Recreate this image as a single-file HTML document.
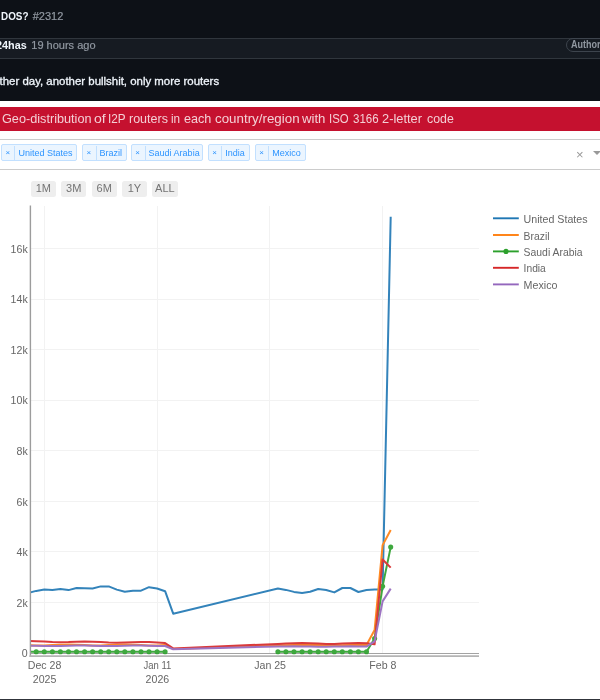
<!DOCTYPE html>
<html lang="en"><head><meta charset="utf-8"><title>DOS? #2312</title>
<style>
html,body{margin:0;padding:0}
body{width:600px;height:700px;position:relative;overflow:hidden;background:#fff;font-family:"Liberation Sans",Arial,sans-serif}
.gh{position:absolute;left:0;top:0;width:600px;height:100.6px;background:#0d1117;color:#f0f6fc;font-size:11px}
.gh .title{position:absolute;left:1px;top:8.4px;line-height:16px;white-space:nowrap}
.gh .title b{font-weight:700;display:inline-block;transform:scaleX(.897);transform-origin:0 0;margin-right:-3.2px}
.gh .title .num{color:#9198a1;margin-left:4.3px;-webkit-text-stroke:.2px #9198a1}
.gh .hdr{position:absolute;left:-20px;right:-20px;top:38px;height:19.2px;background:#161b22;border:1px solid #30363d}
.gh .who{position:absolute;left:-3.6px;top:36.7px;line-height:16px;white-space:nowrap}
.gh .who b{display:inline-block;transform:scaleX(.985);transform-origin:0 0;margin-right:0}
.gh .who span{color:#9198a1;margin-left:3.7px;-webkit-text-stroke:.2px #9198a1}
.gh .pill{position:absolute;left:566px;top:38.2px;height:14px;width:60px;border:1px solid #3d444d;border-radius:8px;box-sizing:border-box;color:#9198a1;font-size:10px;font-weight:700;line-height:12px;padding-left:4.2px}
.gh .pill span{display:inline-block;transform:scaleX(.9);transform-origin:0 0}
.gh .body{position:absolute;left:-20.3px;top:72.8px;line-height:16px;white-space:nowrap;transform:scaleX(1.039);transform-origin:20.3px 0;-webkit-text-stroke:.3px #f0f6fc}
.banner{position:absolute;left:0;top:106.5px;width:600px;height:24px;background:#c5112f;color:rgba(255,255,255,.8);font-size:12.4px;line-height:24px;white-space:nowrap}
.banner span{position:absolute;top:0.1px;transform-origin:0 0}
.sel{position:absolute;left:-10px;top:139px;width:640px;height:28.9px;border:1px solid #ccc;border-radius:4px;background:#fff}
.tags{position:absolute;left:0;top:144.3px;height:16px}
.tag{position:absolute;top:0;height:16.5px;box-sizing:border-box;background:#ebf5ff;border:1px solid #c2e0ff;border-radius:2px;color:rgba(0,126,255,.82);font-size:9px;line-height:14.5px;white-space:nowrap}
.tag .x{position:absolute;left:0;top:0.3px;height:14.5px;text-indent:-1.2px;border-right:1px solid #c2e0ff;text-align:center;box-sizing:border-box;font-size:8px}
.tag .lbl{position:absolute;top:0.4px;padding-left:3px}
.clr{position:absolute;left:576.1px;top:146.2px;font-size:13px;color:#999;line-height:18px}
.arrow{position:absolute;left:592.5px;top:151px;width:0;height:0;border-left:4px solid transparent;border-right:4px solid transparent;border-top:4.5px solid #999}
.btn{position:absolute;top:180.6px;width:25.4px;height:16.2px;background:#eee;border-radius:2.5px;color:#747474;font-size:11px;line-height:15.4px;text-align:center;}
.chart{position:absolute;left:0;top:0}
.chart text{font-family:"Liberation Sans",Arial,sans-serif;font-size:10.6px;fill:#666}
.chart .leg text{font-size:10.8px;fill:#666}
.foot{position:absolute;left:0;top:698.6px;width:600px;height:2px;background:#30343a}
</style></head>
<body>
<div class="gh">
  <div class="title"><b>DOS?</b><span class="num">#2312</span></div>
  <div class="hdr"></div>
  <div class="who"><b>24has</b><span>19 hours ago</span></div>
  <div class="pill"><span>Author</span></div>
  <div class="body">Another day, another bullshit, only more routers</div>
</div>
<div class="banner"><span style="left:1.8px;transform:scaleX(1.023)">Geo-distribution</span> <span style="left:94.0px;transform:scaleX(1.136)">of</span> <span style="left:107.95px;transform:scaleX(0.947)">I2P</span> <span style="left:128.75px;transform:scaleX(1.009)">routers</span> <span style="left:171.0px;transform:scaleX(0.944)">in</span> <span style="left:183.5px;transform:scaleX(1.019)">each</span> <span style="left:215.0px;transform:scaleX(1.077)">country/region</span> <span style="left:302.0px;transform:scaleX(1.064)">with</span> <span style="left:328.7px;transform:scaleX(0.92)">ISO</span> <span style="left:352.7px;transform:scaleX(0.93)">3166</span> <span style="left:382.1px;transform:scaleX(1.036)">2-letter</span> <span style="left:426.7px;transform:scaleX(0.996)">code</span></div>
<div class="sel"></div>
<div class="tags"><span class="tag" style="left:1.3px;width:75.4px"><span class="x" style="width:13.2px">×</span><span class="lbl" style="left:13.2px">United States</span></span><span class="tag" style="left:82.3px;width:44.400000000000006px"><span class="x" style="width:13.299999999999997px">×</span><span class="lbl" style="left:13.299999999999997px">Brazil</span></span><span class="tag" style="left:131px;width:72.30000000000001px"><span class="x" style="width:13.599999999999994px">×</span><span class="lbl" style="left:13.599999999999994px">Saudi Arabia</span></span><span class="tag" style="left:208.3px;width:42.0px"><span class="x" style="width:13.0px">×</span><span class="lbl" style="left:13.0px">India</span></span><span class="tag" style="left:255px;width:51px"><span class="x" style="width:13.300000000000011px">×</span><span class="lbl" style="left:13.300000000000011px">Mexico</span></span></div>
<div class="clr">×</div><div class="arrow"></div>
<div class="btns"><span class="btn" style="left:30.7px">1M</span><span class="btn" style="left:61px">3M</span><span class="btn" style="left:91.5px">6M</span><span class="btn" style="left:121.8px">1Y</span><span class="btn" style="left:152.2px">ALL</span></div>
<svg class="chart" width="600" height="700" viewBox="0 0 600 700"><g stroke="#f2f2f2" stroke-width="1" shape-rendering="crispEdges"><line x1="31" x2="479" y1="602.4" y2="602.4"/><line x1="31" x2="479" y1="551.9" y2="551.9"/><line x1="31" x2="479" y1="501.3" y2="501.3"/><line x1="31" x2="479" y1="450.8" y2="450.8"/><line x1="31" x2="479" y1="400.2" y2="400.2"/><line x1="31" x2="479" y1="349.6" y2="349.6"/><line x1="31" x2="479" y1="299.1" y2="299.1"/><line x1="31" x2="479" y1="248.5" y2="248.5"/><line x1="44.3" x2="44.3" y1="206" y2="653"/><line x1="157.1" x2="157.1" y1="206" y2="653"/><line x1="269.8" x2="269.8" y1="206" y2="653"/><line x1="382.6" x2="382.6" y1="206" y2="653"/></g><line x1="31" x2="479" y1="653.5" y2="653.5" stroke="#999" stroke-width="0.9"/><clipPath id="cp"><rect x="30.2" y="200" width="449.8" height="456"/></clipPath><g clip-path="url(#cp)" fill="none" opacity=".91" stroke-width="2" stroke-linejoin="round" stroke-linecap="butt"><polyline stroke="#1f77b4" points="28.2,593.0 36.2,590.9 44.3,589.6 52.4,590.1 60.4,589.1 68.5,590.1 76.5,588.0 84.6,588.2 92.6,588.5 100.7,586.4 108.7,586.4 116.8,589.6 124.8,591.7 132.9,590.7 141.0,590.7 149.0,587.2 157.1,588.5 165.1,591.2 173.2,613.7 277.9,588.5 285.9,589.9 294.0,591.9 302.1,592.9 310.1,591.8 318.2,589 326.2,590 334.3,592.4 342.3,588 350.4,588 358.4,592 366.5,590 374.6,589.6 382.6,589.6 390.7,216.8"/><polyline stroke="#ff7f0e" points="28.2,645.1 36.2,645.4 44.3,645.5 52.4,645.1 60.4,644.7 68.5,644.5 76.5,644.7 84.6,645.1 92.6,645.4 100.7,645.5 108.7,645.1 116.8,644.7 124.8,644.5 132.9,644.7 141.0,645.1 149.0,645.5 157.1,645.4 165.1,645.1 173.2,648.9 277.9,645.3 285.9,645.2 294.0,645.0 302.1,644.9 310.1,645.0 318.2,645.1 326.2,645.3 334.3,645.3 342.3,645.2 350.4,645.0 358.4,644.9 366.5,645.0 374.6,630 382.6,545.2 390.7,530"/><polyline stroke="#2ca02c" points="28.2,651.8 36.2,651.8 44.3,651.8 52.4,651.8 60.4,651.8 68.5,651.8 76.5,651.8 84.6,651.8 92.6,651.8 100.7,651.8 108.7,651.8 116.8,651.8 124.8,651.8 132.9,651.8 141.0,651.8 149.0,651.8 157.1,651.8 165.1,651.8"/><polyline stroke="#2ca02c" points="277.9,651.8 285.9,651.8 294.0,651.8 302.1,651.8 310.1,651.8 318.2,651.8 326.2,651.8 334.3,651.8 342.3,651.8 350.4,651.8 358.4,651.8 366.5,651.8 374.6,638.6 382.6,586.3 390.7,547.1"/><circle cx="28.2" cy="651.8" r="2.55" fill="#2ca02c"/><circle cx="36.2" cy="651.8" r="2.55" fill="#2ca02c"/><circle cx="44.3" cy="651.8" r="2.55" fill="#2ca02c"/><circle cx="52.4" cy="651.8" r="2.55" fill="#2ca02c"/><circle cx="60.4" cy="651.8" r="2.55" fill="#2ca02c"/><circle cx="68.5" cy="651.8" r="2.55" fill="#2ca02c"/><circle cx="76.5" cy="651.8" r="2.55" fill="#2ca02c"/><circle cx="84.6" cy="651.8" r="2.55" fill="#2ca02c"/><circle cx="92.6" cy="651.8" r="2.55" fill="#2ca02c"/><circle cx="100.7" cy="651.8" r="2.55" fill="#2ca02c"/><circle cx="108.7" cy="651.8" r="2.55" fill="#2ca02c"/><circle cx="116.8" cy="651.8" r="2.55" fill="#2ca02c"/><circle cx="124.8" cy="651.8" r="2.55" fill="#2ca02c"/><circle cx="132.9" cy="651.8" r="2.55" fill="#2ca02c"/><circle cx="141.0" cy="651.8" r="2.55" fill="#2ca02c"/><circle cx="149.0" cy="651.8" r="2.55" fill="#2ca02c"/><circle cx="157.1" cy="651.8" r="2.55" fill="#2ca02c"/><circle cx="165.1" cy="651.8" r="2.55" fill="#2ca02c"/><circle cx="277.9" cy="651.8" r="2.55" fill="#2ca02c"/><circle cx="285.9" cy="651.8" r="2.55" fill="#2ca02c"/><circle cx="294.0" cy="651.8" r="2.55" fill="#2ca02c"/><circle cx="302.1" cy="651.8" r="2.55" fill="#2ca02c"/><circle cx="310.1" cy="651.8" r="2.55" fill="#2ca02c"/><circle cx="318.2" cy="651.8" r="2.55" fill="#2ca02c"/><circle cx="326.2" cy="651.8" r="2.55" fill="#2ca02c"/><circle cx="334.3" cy="651.8" r="2.55" fill="#2ca02c"/><circle cx="342.3" cy="651.8" r="2.55" fill="#2ca02c"/><circle cx="350.4" cy="651.8" r="2.55" fill="#2ca02c"/><circle cx="358.4" cy="651.8" r="2.55" fill="#2ca02c"/><circle cx="366.5" cy="651.8" r="2.55" fill="#2ca02c"/><circle cx="374.6" cy="638.6" r="2.55" fill="#2ca02c"/><circle cx="382.6" cy="586.3" r="2.55" fill="#2ca02c"/><circle cx="390.7" cy="547.1" r="2.55" fill="#2ca02c"/><polyline stroke="#d62728" points="28.2,641.0 36.2,641.2 44.3,641.6 52.4,642.1 60.4,642.3 68.5,642.1 76.5,641.7 84.6,641.5 92.6,641.7 100.7,642.1 108.7,642.6 116.8,642.8 124.8,642.5 132.9,642.2 141.0,642.0 149.0,642.1 157.1,642.6 165.1,643.1 173.2,648.4 277.9,643.9 285.9,643.6 294.0,643.3 302.1,643.1 310.1,643.2 318.2,643.6 326.2,643.9 334.3,643.9 342.3,643.6 350.4,643.3 358.4,643.1 366.5,643.2 374.6,644.3 382.6,559.5 390.7,567.6"/><polyline stroke="#9467bd" points="28.2,645.6 36.2,645.8 44.3,646.0 52.4,646.0 60.4,645.9 68.5,645.7 76.5,645.6 84.6,645.6 92.6,645.8 100.7,646.0 108.7,646.0 116.8,645.9 124.8,645.7 132.9,645.6 141.0,645.6 149.0,645.8 157.1,646.0 165.1,646.0 173.2,649.2 277.9,646.5 285.9,646.4 294.0,646.3 302.1,646.4 310.1,646.6 318.2,646.7 326.2,646.7 334.3,646.5 342.3,646.4 350.4,646.3 358.4,646.4 366.5,646.6 374.6,641.4 382.6,601.4 390.7,588.6"/></g><line x1="30.4" x2="30.4" y1="205.5" y2="656.9" stroke="#9c9c9c" stroke-width="1.4"/><line x1="29.4" x2="479" y1="656.1" y2="656.1" stroke="#b4b4b4" stroke-width="1.6"/><g class="tick" text-anchor="end"><text x="27.7" y="657.25">0</text><text x="27.7" y="606.65">2k</text><text x="27.7" y="556.15">4k</text><text x="27.7" y="505.55">6k</text><text x="27.7" y="455.05">8k</text><text x="27.7" y="404.45">10k</text><text x="27.7" y="353.85">12k</text><text x="27.7" y="303.35">14k</text><text x="27.7" y="252.75">16k</text></g><g class="tick" text-anchor="middle"><text x="44.599999999999994" y="669.1">Dec 28</text><text x="44.599999999999994" y="683.4">2025</text><text x="157.4" y="669.1" textLength="27.8" lengthAdjust="spacingAndGlyphs">Jan 11</text><text x="157.4" y="683.4">2026</text><text x="270.1" y="669.1">Jan 25</text><text x="382.90000000000003" y="669.1">Feb 8</text></g><g class="leg"><line x1="493" x2="518.8" y1="218.3" y2="218.3" stroke="#1f77b4" stroke-width="1.9"/><text x="523.6" y="222.8" textLength="64" lengthAdjust="spacingAndGlyphs">United States</text><line x1="493" x2="518.8" y1="235" y2="235" stroke="#ff7f0e" stroke-width="1.9"/><text x="523.6" y="239.5" textLength="26" lengthAdjust="spacingAndGlyphs">Brazil</text><line x1="493" x2="518.8" y1="251.4" y2="251.4" stroke="#2ca02c" stroke-width="1.9"/><circle cx="506" cy="251.4" r="2.55" fill="#2ca02c"/><text x="523.6" y="255.9" textLength="59" lengthAdjust="spacingAndGlyphs">Saudi Arabia</text><line x1="493" x2="518.8" y1="267.8" y2="267.8" stroke="#d62728" stroke-width="1.9"/><text x="523.6" y="272.3" textLength="22.2" lengthAdjust="spacingAndGlyphs">India</text><line x1="493" x2="518.8" y1="284.4" y2="284.4" stroke="#9467bd" stroke-width="1.9"/><text x="523.6" y="288.9" textLength="33.9" lengthAdjust="spacingAndGlyphs">Mexico</text></g></svg>
<div class="foot"></div>
</body></html>
